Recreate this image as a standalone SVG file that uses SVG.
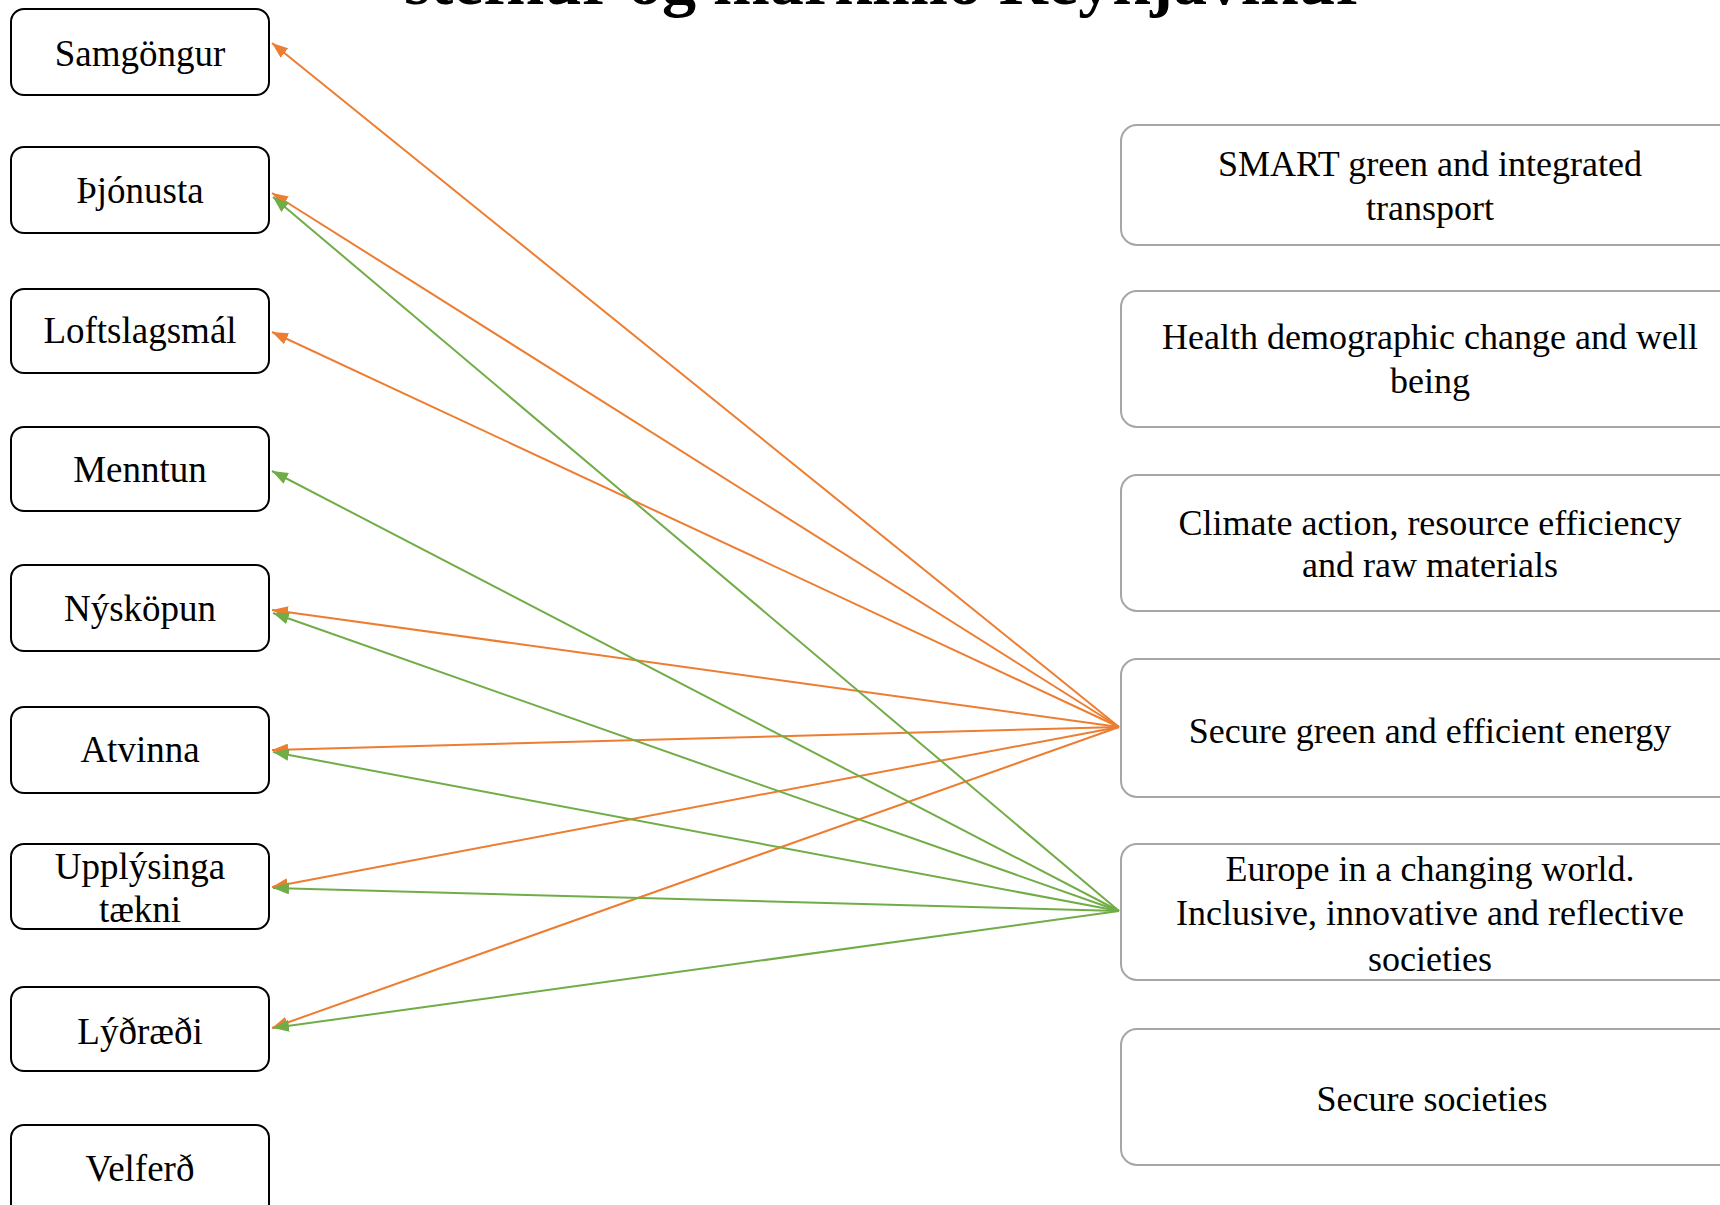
<svg xmlns="http://www.w3.org/2000/svg" width="1720" height="1205" viewBox="0 0 1720 1205">
  <style>
    .t { font-family: "Liberation Serif", "Times New Roman", serif; font-size: 36px; fill: #000; text-anchor: middle; }
    .l { font-size: 37px; }
    .title { font-family: "Liberation Serif", "Times New Roman", serif; font-size: 68px; font-weight: bold; fill: #000; }
    .lb { fill: #fff; stroke: #000; stroke-width: 2; }
    .rb { fill: #fff; stroke: #a6a6a6; stroke-width: 2; }
    .or { stroke: #ED7D31; stroke-width: 2; fill: none; marker-end: url(#ao); }
    .gr { stroke: #70AD47; stroke-width: 2; fill: none; marker-end: url(#ag); }
  </style>
  <defs>
    <marker id="ao" viewBox="0 0 16 12" markerWidth="16" markerHeight="12" markerUnits="userSpaceOnUse" refX="16" refY="6" orient="auto">
      <path d="M0,0 L16,6 L0,12 z" fill="#ED7D31"/>
    </marker>
    <marker id="ag" viewBox="0 0 16 12" markerWidth="16" markerHeight="12" markerUnits="userSpaceOnUse" refX="16" refY="6" orient="auto">
      <path d="M0,0 L16,6 L0,12 z" fill="#70AD47"/>
    </marker>
  </defs>
  <rect width="1720" height="1205" fill="#fff"/>

  <text class="title" x="404" y="4" textLength="962" lengthAdjust="spacingAndGlyphs">stefnur og markmið Reykjavíkur</text>

  <g id="left-nodes">
    <g id="n-samgongur"><rect class="lb" x="11" y="9" width="258" height="86" rx="13"/><text class="t l" x="140" y="66">Samgöngur</text></g>
    <g id="n-thjonusta"><rect class="lb" x="11" y="147" width="258" height="86" rx="13"/><text class="t l" x="140" y="203">Þjónusta</text></g>
    <g id="n-loftslagsmal"><rect class="lb" x="11" y="289" width="258" height="84" rx="13"/><text class="t l" x="140" y="343">Loftslagsmál</text></g>
    <g id="n-menntun"><rect class="lb" x="11" y="427" width="258" height="84" rx="13"/><text class="t l" x="140" y="482">Menntun</text></g>
    <g id="n-nyskopun"><rect class="lb" x="11" y="565" width="258" height="86" rx="13"/><text class="t l" x="140" y="621">Nýsköpun</text></g>
    <g id="n-atvinna"><rect class="lb" x="11" y="707" width="258" height="86" rx="13"/><text class="t l" x="140" y="762">Atvinna</text></g>
    <g id="n-upplysinga"><rect class="lb" x="11" y="844" width="258" height="85" rx="13"/><text class="t l" x="140" y="879">Upplýsinga</text><text class="t l" x="140" y="922">tækni</text></g>
    <g id="n-lydraedi"><rect class="lb" x="11" y="987" width="258" height="84" rx="13"/><text class="t l" x="140" y="1044">Lýðræði</text></g>
    <g id="n-velferd"><rect class="lb" x="11" y="1125" width="258" height="100" rx="13"/><text class="t l" x="140" y="1181">Velferð</text></g>
  </g>

  <g id="right-nodes">
    <g id="r-transport"><rect class="rb" x="1121" y="125" width="640" height="120" rx="16"/><text class="t" x="1430" y="176">SMART green and integrated</text><text class="t" x="1430" y="220">transport</text></g>
    <g id="r-health"><rect class="rb" x="1121" y="291" width="640" height="136" rx="16"/><text class="t" x="1430" y="349">Health demographic change and well</text><text class="t" x="1430" y="393">being</text></g>
    <g id="r-climate"><rect class="rb" x="1121" y="475" width="640" height="136" rx="16"/><text class="t" x="1430" y="535">Climate action, resource efficiency</text><text class="t" x="1430" y="577">and raw materials</text></g>
    <g id="r-energy"><rect class="rb" x="1121" y="659" width="640" height="138" rx="16"/><text class="t" x="1430" y="743">Secure green and efficient energy</text></g>
    <g id="r-europe"><rect class="rb" x="1121" y="844" width="640" height="136" rx="16"/><text class="t" x="1430" y="881">Europe in a changing world.</text><text class="t" x="1430" y="925">Inclusive, innovative and reflective</text><text class="t" x="1430" y="971">societies</text></g>
    <g id="r-secure"><rect class="rb" x="1121" y="1029" width="640" height="136" rx="16"/><text class="t" x="1432" y="1111">Secure societies</text></g>
  </g>

  <g id="connectors">
    <line class="or" x1="1119" y1="727" x2="272" y2="43"/>
    <line class="or" x1="1119" y1="727" x2="272" y2="193"/>
    <line class="or" x1="1119" y1="727" x2="272" y2="332"/>
    <line class="or" x1="1119" y1="727" x2="272" y2="610"/>
    <line class="or" x1="1119" y1="727" x2="272" y2="750"/>
    <line class="or" x1="1119" y1="727" x2="272" y2="887"/>
    <line class="or" x1="1119" y1="727" x2="272" y2="1028"/>
    <line class="gr" x1="1119" y1="911" x2="273" y2="197"/>
    <line class="gr" x1="1119" y1="911" x2="272" y2="471"/>
    <line class="gr" x1="1119" y1="911" x2="273" y2="613"/>
    <line class="gr" x1="1119" y1="911" x2="273" y2="752"/>
    <line class="gr" x1="1119" y1="911" x2="273" y2="888"/>
    <line class="gr" x1="1119" y1="911" x2="273" y2="1028"/>
  </g>
</svg>
